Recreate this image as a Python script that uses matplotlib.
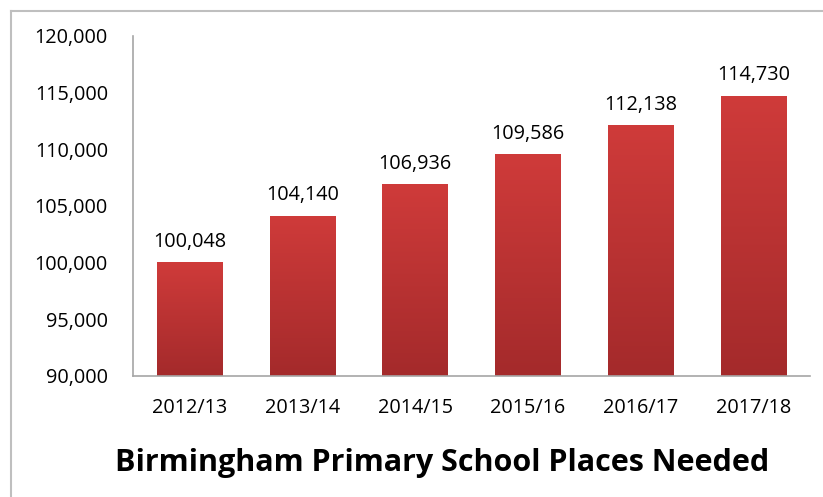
import numpy as np
import matplotlib
matplotlib.use('Agg')
import matplotlib.pyplot as plt
from matplotlib.colors import LinearSegmentedColormap
from matplotlib.lines import Line2D

plt.rcParams['font.family'] = ['Open Sans', 'DejaVu Sans']

# data
years = ['2012/13', '2013/14', '2014/15', '2015/16', '2016/17', '2017/18']
places = [100048, 104140, 106936, 109586, 112138, 114730]
y_ticks = [90000, 95000, 100000, 105000, 110000, 115000, 120000]

fig = plt.figure(figsize=(8.23, 4.97), dpi=100)
ax = fig.add_axes([133/823, 1-376/497, (810-133)/823, (376-36)/497])

x = np.arange(len(years))
bars = ax.bar(x, places, width=0.58, color='none', bottom=0)

# red gradient inside each bar
cmap = LinearSegmentedColormap.from_list('reds', ['#a42a2b', '#cf3b3a'])
grad = np.linspace(0, 1, 256).reshape(-1, 1)
for b in bars:
    x0, y0 = b.get_x(), b.get_y()
    w, h = b.get_width(), b.get_height()
    im = ax.imshow(grad, extent=[x0, x0 + w, 90000, y0 + h], origin='lower',
                   cmap=cmap, aspect='auto', zorder=2)
    im.set_clip_path(b)

for xi, v in zip(x, places):
    ax.annotate(f'{v:,}', (xi, v), xytext=(0, 11), textcoords='offset points',
                ha='center', va='baseline', fontsize=14.3, color='black')

ax.set_xlim(-0.5, len(years) - 0.5)
ax.set_ylim(90000, 120000)
ax.set_yticks(y_ticks)
ax.set_yticklabels([f'{t:,}' for t in y_ticks])
ax.set_xticks(x)
ax.set_xticklabels(years)
ax.tick_params(axis='y', length=0, pad=18, labelsize=14.3)
ax.tick_params(axis='x', length=0, pad=16, labelsize=14.3)

for s in ['top', 'right']:
    ax.spines[s].set_visible(False)
for s in ['left', 'bottom']:
    ax.spines[s].set_color('#a6a6a6')
    ax.spines[s].set_linewidth(1.2)

fig.text(442/823, 1-463/497, 'Birmingham Primary School Places Needed',
         ha='center', va='center', fontsize=22, fontweight='bold')

# outer chart frame
fig.add_artist(Line2D([11/823, 11/823], [0, 1-11/497], transform=fig.transFigure,
                      color='#bfbfbf', lw=1.5))
fig.add_artist(Line2D([11/823, 1], [1-11/497, 1-11/497], transform=fig.transFigure,
                      color='#bfbfbf', lw=1.5))

fig.savefig('out.png', dpi=100)
